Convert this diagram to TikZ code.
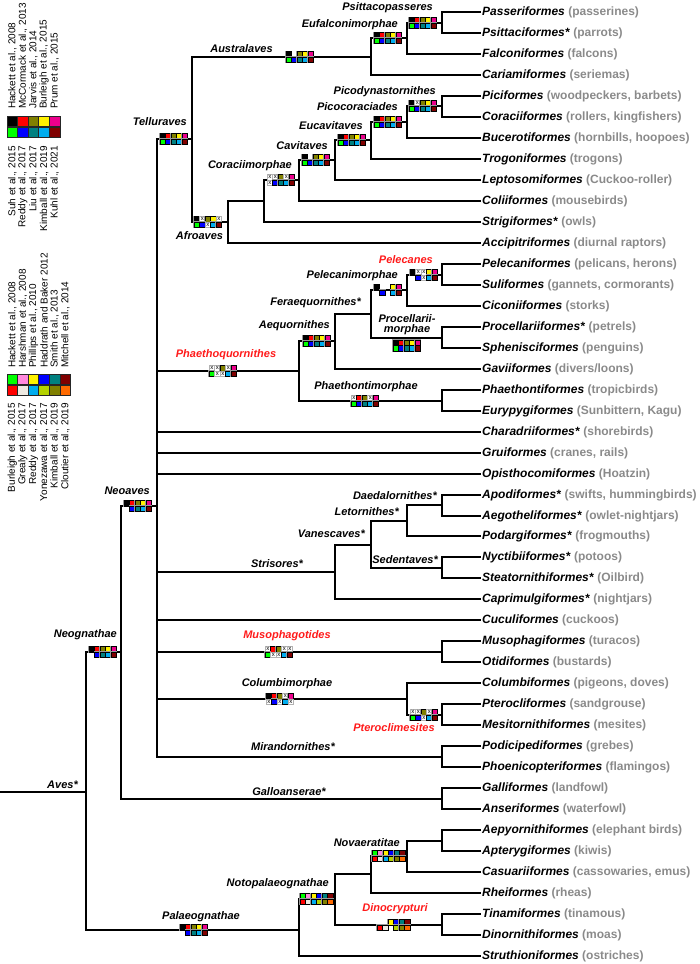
\documentclass[tikz,border=0pt]{standalone}
\usepackage{fontspec}
\setmainfont{Liberation Sans}

\definecolor{bolive}{HTML}{808000}
\definecolor{bteal}{HTML}{008080}
\definecolor{bdred}{HTML}{800000}
\definecolor{bpink}{HTML}{FF88DD}
\definecolor{bpale}{HTML}{EEEAE2}
\definecolor{blime}{HTML}{B4D200}
\definecolor{borange}{HTML}{FF6A00}
\definecolor{cladered}{HTML}{FF1A1A}
\definecolor{commongray}{HTML}{8A8A8A}

% support boxes: x of left edge, y of branch, top row, bottom row
\newcommand{\cbox}[4]{%
  \foreach \s [count=\i from 0] in {#3}
    \node at (#1+2.75+5.5*\i, #2-2.75) [cell \s];
  \foreach \s [count=\i from 0] in {#4}
    \node at (#1+2.75+5.5*\i, #2+2.75) [cell \s];
}

\begin{document}
\begin{tikzpicture}[x=1pt, y=-1pt,
  branch/.style={draw=black, line width=2pt},
  leaf/.style={anchor=west, inner sep=1pt, font=\fontsize{12}{14}\selectfont\bfseries},
  clade/.style={inner sep=0pt, font=\fontsize{11}{13}\selectfont\bfseries\itshape},
  redclade/.style={clade, text=cladered},
  refs/.style={inner sep=0pt, rotate=90, font=\fontsize{10}{12}\selectfont},
  lcell/.style={draw=black!85, line width=0.8pt, minimum size=10.6pt, inner sep=0pt},
  cellbase/.style={minimum size=5.5pt, inner sep=0pt, node contents={}},
  cell/.style={cellbase, draw=black, line width=0.4pt,
    preaction={draw=black!40, line width=1.4pt}, fill=#1},
  cell k/.style={cell=black}, cell r/.style={cell=red},
  cell o/.style={cell=bolive}, cell y/.style={cell=yellow},
  cell m/.style={cell=magenta}, cell g/.style={cell=green},
  cell b/.style={cell=blue}, cell t/.style={cell=bteal},
  cell c/.style={cell=cyan}, cell d/.style={cell=bdred},
  cell p/.style={cell=bpink}, cell w/.style={cell=bpale},
  cell l/.style={cell=blime}, cell a/.style={cell=borange},
  cell x/.style={cellbase, draw=black!30, line width=0.4pt, fill=white,
    font=\fontsize{6}{6}\selectfont, node contents={x}},
  cell n/.style={cellbase}]
\useasboundingbox (0,0) rectangle (700,964);

% legends
\foreach \s [count=\i from 0] in {black,red,bolive,yellow,magenta}
  \node[lcell, fill=\s] (lgA\i) at (12.3+10.6*\i,121.5) {};
\foreach \s [count=\i from 0] in {green,blue,bteal,cyan,bdred}
  \node[lcell, fill=\s] (lgB\i) at (12.3+10.6*\i,132.3) {};
\foreach \t [count=\i from 0] in {{Hackett et al., 2008},{McCormack et al., 2013},
    {Jarvis et al., 2014},{Burleigh et al., 2015},{Prum et al., 2015}}
  \node[refs, anchor=west] (refA\i) at (12.3+10.6*\i,109) {\t};
\foreach \t [count=\i from 0] in {{Suh et al., 2015},{Reddy et al., 2017},
    {Liu et al., 2017},{Kimball et al., 2019},{Kuhl et al., 2021}}
  \node[refs, anchor=east] (refB\i) at (12.3+10.6*\i,146) {\t};

\foreach \s [count=\i from 0] in {green,bpink,yellow,blue,bteal,bdred}
  \node[lcell, fill=\s] (lgC\i) at (12.3+10.6*\i,379.5) {};
\foreach \s [count=\i from 0] in {red,bpale,cyan,blime,bolive,borange}
  \node[lcell, fill=\s] (lgD\i) at (12.3+10.6*\i,390.3) {};
\foreach \t [count=\i from 0] in {{Hackett et al., 2008},{Harshman et al., 2008},
    {Phillips et al., 2010},{Haddrath and Baker 2012},{Smith et al., 2013},{Mitchell et al., 2014}}
  \node[refs, anchor=west] (refC\i) at (12.3+10.6*\i,368) {\t};
\foreach \t [count=\i from 0] in {{Burleigh et al., 2015},{Grealy et al., 2017},
    {Reddy et al., 2017},{Yonezawa et al., 2017},{Kimball et al., 2019},{Cloutier et al., 2019}}
  \node[refs, anchor=east] (refD\i) at (12.3+10.6*\i,403) {\t};

% leaves
\foreach \nm/\cm [count=\i from 0] in {Passeriformes/passerines,
    Psittaciformes*/parrots, Falconiformes/falcons, Cariamiformes/seriemas,
    Piciformes/{woodpeckers, barbets}, Coraciiformes/{rollers, kingfishers},
    Bucerotiformes/{hornbills, hoopoes}, Trogoniformes/trogons,
    Leptosomiformes/Cuckoo-roller, Coliiformes/mousebirds, Strigiformes*/owls,
    Accipitriformes/diurnal raptors, Pelecaniformes/{pelicans, herons},
    Suliformes/{gannets, cormorants}, Ciconiiformes/storks,
    Procellariiformes*/petrels, Sphenisciformes/penguins,
    Gaviiformes/{divers/loons}, Phaethontiformes/tropicbirds,
    Eurypygiformes/{Sunbittern, Kagu}, Charadriiformes*/shorebirds,
    Gruiformes/{cranes, rails}, Opisthocomiformes/Hoatzin,
    Apodiformes*/{swifts, hummingbirds}, Aegotheliformes*/owlet-nightjars,
    Podargiformes*/frogmouths, Nyctibiiformes*/potoos,
    Steatornithiformes*/Oilbird, Caprimulgiformes*/nightjars,
    Cuculiformes/cuckoos, Musophagiformes/turacos, Otidiformes/bustards,
    Columbiformes/{pigeons, doves}, Pterocliformes/sandgrouse,
    Mesitornithiformes/mesites, Podicipediformes/grebes,
    Phoenicopteriformes/flamingos, Galliformes/landfowl, Anseriformes/waterfowl,
    Aepyornithiformes/elephant birds, Apterygiformes/kiwis,
    Casuariiformes/{cassowaries, emus}, Rheiformes/rheas,
    Tinamiformes/tinamous, Dinornithiformes/moas, Struthioniformes/ostriches}
  \node[leaf] (L\i) at (481,{round(12+20.98*\i)}) {\textit{\nm} \textcolor{commongray}{(\cm)}};

% internal nodes
\coordinate (root) at (0,792);
\coordinate (aves) at (86,792);
\coordinate (neogn) at (121,652);
\coordinate (neoav) at (157,506);
\coordinate (tellur) at (192,139);
\coordinate (austral) at (371,57);
\coordinate (eufalc) at (407,38);
\coordinate (psitta) at (442,23);
\coordinate (afro) at (228,222);
\coordinate (strigcor) at (264,201);
\coordinate (coracii) at (299,180);
\coordinate (cavit) at (335,160);
\coordinate (eucav) at (371,140);
\coordinate (picocor) at (407,122);
\coordinate (picodyn) at (442,106);
\coordinate (phaetq) at (299,371);
\coordinate (aequor) at (335,341);
\coordinate (feraeq) at (371,314);
\coordinate (pelecm) at (407,290);
\coordinate (pelecs) at (442,275);
\coordinate (procel) at (442,338);
\coordinate (phaetm) at (442,401);
\coordinate (strisor) at (335,572);
\coordinate (vanesc) at (371,545);
\coordinate (letorn) at (407,521);
\coordinate (daedal) at (442,505);
\coordinate (sedent) at (442,568);
\coordinate (musoph) at (442,652);
\coordinate (columb) at (407,699);
\coordinate (pteroc) at (442,715);
\coordinate (mirand) at (442,757);
\coordinate (gallo) at (442,799);
\coordinate (palaeo) at (299,930);
\coordinate (notop) at (335,899);
\coordinate (ratit) at (371,874);
\coordinate (novae) at (407,856);
\coordinate (aepapt) at (442,841);
\coordinate (dinocr) at (442,925);

% branches
\draw[branch] (root) -- (aves);
\foreach \p/\c in {aves/neogn, aves/palaeo, neogn/neoav, neogn/gallo,
    neoav/tellur, neoav/phaetq, neoav/L20.west, neoav/L21.west, neoav/L22.west,
    neoav/strisor, neoav/L29.west, neoav/musoph, neoav/columb, neoav/mirand,
    tellur/austral, tellur/afro, austral/eufalc, austral/L3.west,
    eufalc/psitta, eufalc/L2.west, psitta/L0.west, psitta/L1.west,
    afro/strigcor, afro/L11.west, strigcor/coracii, strigcor/L10.west,
    coracii/cavit, coracii/L9.west, cavit/eucav, cavit/L8.west,
    eucav/picocor, eucav/L7.west, picocor/picodyn, picocor/L6.west,
    picodyn/L4.west, picodyn/L5.west,
    phaetq/aequor, phaetq/phaetm, aequor/feraeq, aequor/L17.west,
    feraeq/pelecm, feraeq/procel, pelecm/pelecs, pelecm/L14.west,
    pelecs/L12.west, pelecs/L13.west, procel/L15.west, procel/L16.west,
    phaetm/L18.west, phaetm/L19.west,
    strisor/vanesc, strisor/L28.west, vanesc/letorn, vanesc/sedent,
    letorn/daedal, letorn/L25.west, daedal/L23.west, daedal/L24.west,
    sedent/L26.west, sedent/L27.west, musoph/L30.west, musoph/L31.west,
    columb/L32.west, columb/pteroc, pteroc/L33.west, pteroc/L34.west,
    mirand/L35.west, mirand/L36.west, gallo/L37.west, gallo/L38.west,
    palaeo/notop, palaeo/L45.west, notop/ratit, notop/dinocr,
    ratit/novae, ratit/L42.west, novae/aepapt, novae/L41.west,
    aepapt/L39.west, aepapt/L40.west, dinocr/L43.west, dinocr/L44.west}
  \draw[branch] (\p) |- (\c);

% clade names
\node[clade, anchor=east] (psittaL) at (433,8) {Psittacopasseres};
\node[clade, anchor=east] (eufalcL) at (398,25) {Eufalconimorphae};
\node[clade] (australL) at (241.5,49) {Australaves};
\node[clade, anchor=east] (tellurL) at (187,122) {Telluraves};
\node[clade] (afroL) at (199.5,236) {Afroaves};
\node[clade, anchor=east] (coraciiL) at (292,166) {Coraciimorphae};
\node[clade, anchor=east] (cavitL) at (328,146) {Cavitaves};
\node[clade, anchor=east] (eucavL) at (363,126) {Eucavitaves};
\node[clade, anchor=east] (picocorL) at (398,107) {Picocoraciades};
\node[clade, anchor=east] (picodynL) at (436,92) {Picodynastornithes};
\node[redclade, anchor=east] (pelecsL) at (433,260) {Pelecanes};
\node[clade, anchor=east] (pelecmL) at (398,276) {Pelecanimorphae};
\node[clade, anchor=east] (feraeqL) at (361,303) {Feraequornithes*};
\node[clade, anchor=east] (aequorL) at (330,326) {Aequornithes};
\node[clade, align=center, font=\fontsize{11}{10.5}\selectfont\bfseries\itshape]
  (procelL) at (407,324.5) {Procellarii-\\morphae};
\node[redclade] (phaetqL) at (226,355) {Phaethoquornithes};
\node[clade] (phaetmL) at (366,387) {Phaethontimorphae};
\node[clade, anchor=east] (daedalL) at (437,496) {Daedalornithes*};
\node[clade, anchor=east] (letornL) at (399,512) {Letornithes*};
\node[clade, anchor=east] (vanescL) at (365,534) {Vanescaves*};
\node[clade, anchor=east] (sedentL) at (438,560) {Sedentaves*};
\node[clade] (strisorL) at (277,564) {Strisores*};
\node[redclade] (musophL) at (287,636) {Musophagotides};
\node[clade] (columbL) at (287,684) {Columbimorphae};
\node[redclade] (pterocL) at (394,728) {Pteroclimesites};
\node[clade] (mirandL) at (293,747) {Mirandornithes*};
\node[clade] (galloL) at (289,792) {Galloanserae*};
\node[clade, anchor=east] (avesL) at (78,785) {Aves*};
\node[clade, anchor=east] (neoavL) at (150,491) {Neoaves};
\node[clade, anchor=east] (neognL) at (117,635) {Neognathae};
\node[clade, anchor=east] (novaeL) at (400,843) {Novaeratitae};
\node[clade, anchor=east] (notopL) at (329,884) {Notopalaeognathae};
\node[clade] (palaeoL) at (201,917) {Palaeognathae};
\node[redclade] (dinocrL) at (395,909) {Dinocrypturi};

% support boxes
\cbox{409}{23}{k,r,o,y,m}{g,b,t,c,d}
\cbox{374}{38}{k,r,o,y,m}{g,b,t,c,d}
\cbox{286}{57}{k,n,o,y,m}{g,b,t,c,d}
\cbox{160}{139}{k,r,o,y,m}{g,b,t,c,d}
\cbox{194}{222}{k,x,o,y,x}{g,b,x,c,d}
\cbox{267}{180}{x,x,o,x,m}{x,b,t,c,d}
\cbox{302}{160}{k,n,o,y,m}{g,b,t,c,d}
\cbox{338}{140}{k,r,o,y,m}{g,b,t,c,d}
\cbox{374}{122}{k,r,o,y,m}{g,b,t,c,d}
\cbox{409}{106}{k,x,o,y,m}{g,b,t,c,d}
\cbox{410}{275}{k,x,x,y,m}{n,b,x,c,d}
\cbox{374}{290}{k,n,n,y,m}{n,b,n,c,d}
\cbox{393}{345.5}{k,r,o,y,m}{g,b,t,c,d}
\cbox{303}{341}{k,r,o,y,m}{g,b,t,c,d}
\cbox{209}{371}{x,x,o,x,m}{g,x,x,c,d}
\cbox{351}{401}{x,r,o,x,m}{g,b,t,c,d}
\cbox{124}{506}{k,r,o,y,m}{n,b,t,c,d}
\cbox{89}{652}{k,r,o,y,m}{n,b,t,c,d}
\cbox{265}{652}{x,r,o,x,x}{g,x,x,c,d}
\cbox{266}{699}{k,r,o,x,m}{x,b,x,c,x}
\cbox{410}{715}{x,x,o,x,m}{g,b,x,c,d}
\cbox{180}{930}{k,r,o,y,m}{n,b,t,c,d}
\cbox{300}{899}{g,p,y,b,t,d}{r,w,c,l,o,a}
\cbox{372}{856}{g,p,y,b,t,d}{r,w,c,l,o,a}
\cbox{377}{925}{n,n,y,b,t,d}{r,w,n,l,o,a}
\end{tikzpicture}
\end{document}
